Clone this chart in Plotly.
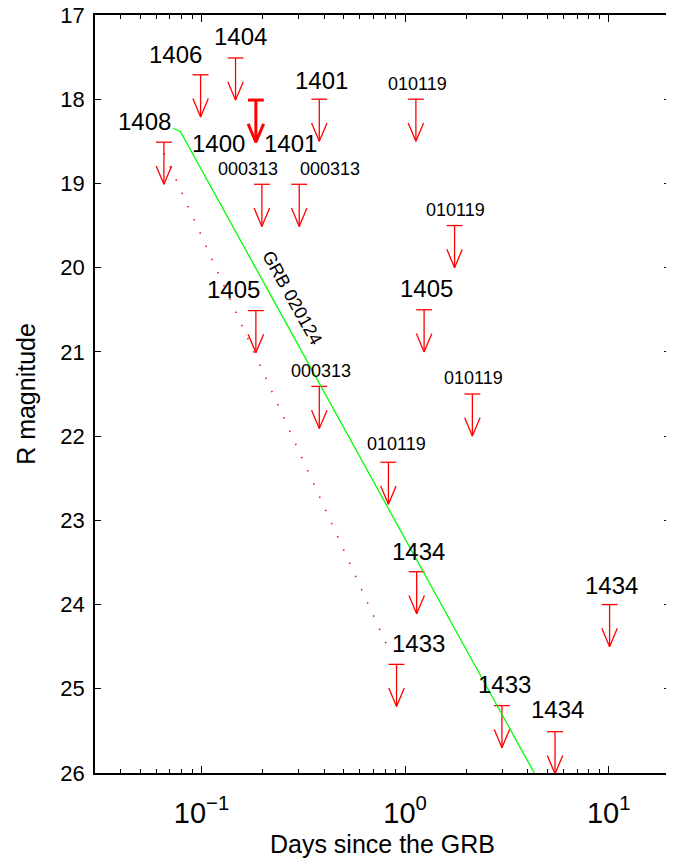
import numpy as np
import plotly.graph_objects as go

# ---------------- data ----------------
# upper limits: days since the GRB, limiting R magnitude
limit_days = [0.0654, 0.099, 0.147, 0.185, 0.198, 0.302, 0.379, 0.185, 0.379, 0.828,
              1.14, 0.908, 2.99, 5.45, 10.1, 1.13, 1.75, 1.24, 2.14]
limit_mags = [18.51, 17.71, 17.51, 18.01, 19.01, 19.01, 18.00, 20.51, 21.41, 22.31,
              23.61, 24.71, 25.20, 25.51, 24.00, 18.00, 19.50, 20.50, 21.50]
big_labels = ["1408", "1406", "1404", "", "1400", "1401", "1401", "1405", "", "",
              "1434", "1433", "1433", "1434", "1434", "", "", "1405", ""]
small_labels = ["", "", "", "", "000313", "000313", "", "", "000313", "010119",
                "", "", "", "", "", "010119", "010119", "", "010119"]
thick_flags = [False, False, False, True, False, False, False, False, False, False,
               False, False, False, False, False, False, False, False, False]

# GRB 020124 light curve (model line)
grb_days = [0.0727, 0.0789, 4.31]
grb_mags = [18.345, 18.386, 26.0]

# dotted red line
dot_days = [0.0654, 0.841]
dot_mags = [18.64, 24.56]

x_tickvals = [0.1, 1, 10]
x_ticktext = ["10<sup>\u22121</sup>", "10<sup>0</sup>", "10<sup>1</sup>"]
y_tickvals = [17, 18, 19, 20, 21, 22, 23, 24, 25, 26]

# ---------------- style ----------------
FONT = "Liberation Sans, Arial, Helvetica, sans-serif"
RED = "#ff0000"
GREEN = "#00ff00"
ARROW_LEN = 0.5      # mag
HEAD_LEN = 0.218     # mag
CAP_HALF = 0.039     # decades
HEAD_HALF = 0.038    # decades

# label pixel offsets (dx right, dy up)
big_off = [(-19, 21), (-25, 20), (5, 21), (0, 0), (-43, 41), (-9, 41), (2, 19), (-22, 21),
           (0, 0), (0, 0), (2, 20), (22, 21), (3, 21), (2, 22), (2, 19), (0, 0), (0, 0),
           (2, 21), (0, 0)]
small_off = [(0, 0), (0, 0), (0, 0), (0, 0), (-14, 15.5), (31, 15.5), (0, 0), (0, 0),
             (1.5, 15.7), (8, 18.6), (0, 0), (0, 0), (0, 0), (0, 0), (0, 0), (1.5, 15.6),
             (1, 15.7), (0, 0), (1, 16)]


def arrow_xy(t, m):
    xs, ys = [], []
    tip = m + ARROW_LEN
    # cap
    xs += [t * 10 ** (-CAP_HALF), t * 10 ** CAP_HALF, None]
    ys += [m, m, None]
    # shaft
    xs += [t, t, None]
    ys += [m, tip, None]
    # head
    xs += [t * 10 ** (-HEAD_HALF), t, t * 10 ** HEAD_HALF, None]
    ys += [tip - HEAD_LEN, tip, tip - HEAD_LEN, None]
    return xs, ys


nx, ny, tx, ty = [], [], [], []
for t, m, thick in zip(limit_days, limit_mags, thick_flags):
    xs, ys = arrow_xy(t, m)
    if thick:
        tx += xs
        ty += ys
    else:
        nx += xs
        ny += ys

fig = go.Figure()
fig.add_trace(go.Scatter(x=dot_days, y=dot_mags, mode="lines",
                         line=dict(color=RED, width=1.5, dash="1.5px,13px"),
                         hoverinfo="skip", showlegend=False))
fig.add_trace(go.Scatter(x=nx, y=ny, mode="lines", line=dict(color=RED, width=1.3),
                         hoverinfo="skip", showlegend=False))
fig.add_trace(go.Scatter(x=tx, y=ty, mode="lines", line=dict(color=RED, width=3),
                         hoverinfo="skip", showlegend=False))
fig.add_trace(go.Scatter(x=grb_days, y=grb_mags, mode="lines",
                         line=dict(color=GREEN, width=1.3),
                         hoverinfo="skip", showlegend=False))

annotations = []
for t, m, bl, sl, bo, so in zip(limit_days, limit_mags, big_labels, small_labels, big_off, small_off):
    if bl:
        annotations.append(dict(x=np.log10(t), y=m, xref="x", yref="y", text=bl,
                                showarrow=False, xshift=bo[0], yshift=bo[1],
                                font=dict(family=FONT, size=24, color="black")))
    if sl:
        annotations.append(dict(x=np.log10(t), y=m, xref="x", yref="y", text=sl,
                                showarrow=False, xshift=so[0], yshift=so[1],
                                font=dict(family=FONT, size=18, color="black")))

annotations.append(dict(x=np.log10(0.279), y=20.36, xref="x", yref="y", text="GRB 020124",
                        showarrow=False, textangle=61,
                        font=dict(family=FONT, size=18, color="black")))

# the page body has an 8px default margin, so the margins are set 8px smaller on the left/top
fig.update_layout(
    width=674, height=859,
    margin=dict(l=87, r=12, t=7, b=94, autoexpand=False),
    paper_bgcolor="white", plot_bgcolor="white",
    font=dict(family=FONT, color="black"),
    annotations=annotations,
    showlegend=False,
)
fig.update_xaxes(
    type="log", range=[np.log10(0.03), np.log10(20)],
    tickvals=x_tickvals, ticktext=x_ticktext,
    ticks="inside", ticklen=7, tickwidth=1.3, tickcolor="black",
    minor=dict(ticks="inside", ticklen=4, tickwidth=1.3, tickcolor="black",
               tickvals=[0.03, 0.04, 0.05, 0.06, 0.07, 0.08, 0.09,
                         0.2, 0.3, 0.4, 0.5, 0.6, 0.7, 0.8, 0.9,
                         2, 3, 4, 5, 6, 7, 8, 9, 20]),
    showline=True, linecolor="black", linewidth=1.5, mirror="ticks",
    showgrid=False, zeroline=False, automargin=False,
    tickfont=dict(family=FONT, size=29),
    ticklabelstandoff=13, ticklabeloverflow="allow",
    title=dict(text="Days since the GRB", font=dict(family=FONT, size=25), standoff=8),
)
fig.update_yaxes(
    range=[26, 17], tickvals=y_tickvals,
    ticks="inside", ticklen=6, tickwidth=1.3, tickcolor="black",
    showline=True, linecolor="black", linewidth=1.5, mirror="ticks",
    showgrid=False, zeroline=False, automargin=False,
    tickfont=dict(family=FONT, size=22),
    ticklabelstandoff=4, ticklabeloverflow="allow",
    title=dict(text="R magnitude", font=dict(family=FONT, size=25), standoff=18),
)

fig.write_html("out.html")
